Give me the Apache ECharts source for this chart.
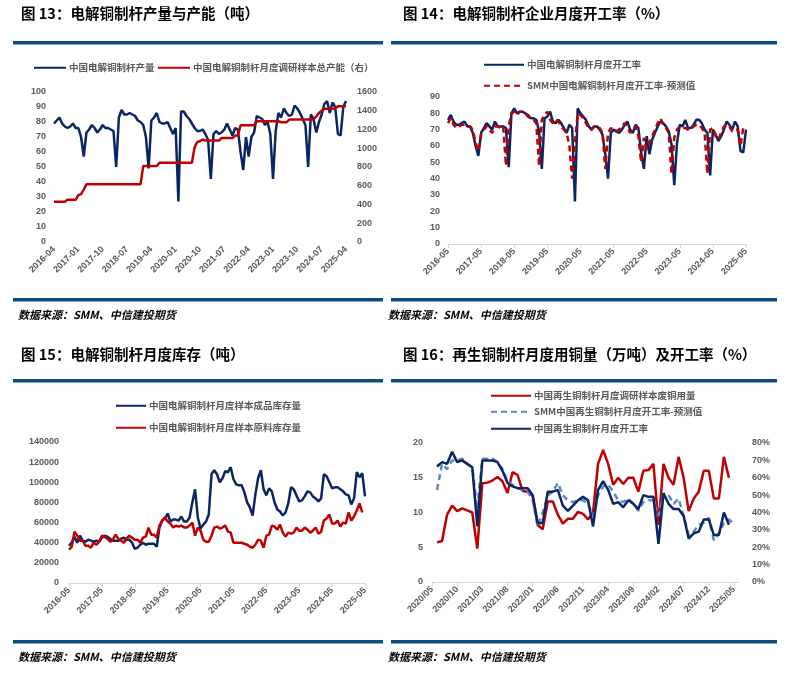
<!DOCTYPE html>
<html><head><meta charset="utf-8">
<script src="https://cdn.jsdelivr.net/npm/echarts@6/dist/echarts.min.js"></script>
<style>html,body{margin:0;padding:0;background:#fff}#c{width:785px;height:685px}</style>
</head><body><div id="c"></div>
<script>
// ---------- categories ----------
function monthRange(y, m, n, sep) {
  var out = [];
  for (var k = 0; k < n; k++) {
    var yy = y + Math.floor((m - 1 + k) / 12), mm = ((m - 1 + k) % 12) + 1;
    out.push(yy + sep + (mm < 10 ? '0' + mm : mm));
  }
  return out;
}
var p1Months = monthRange(2016, 4, 109, '-');   // 2016-04 .. 2025-04
var p2Months = monthRange(2016, 5, 109, '-');   // 2016-05 .. 2025-05
var p3Months = monthRange(2016, 5, 109, '-');
var p4Months = monthRange(2020, 5, 62, '/');    // 2020/05 .. 2025/06

// ---------- 图13 ----------
var p1Output = [79,81,83,79,77,76,77,79,76,76, 70,57,73,75,78,76,73,75,78,76,
  76,75,74,50,83,88,85,85,86,85, 84,81,80,78,70,49,81,83,86,80,
  79,79,80,76,72,76,27,87,87,84, 82,79,76,74,74,75,72,68,42,72,
  74,72,73,75,79,75,71,76,75,60, 48,70,57,70,73,84,83,82,78,80,
  72,42,74,86,83,89,86,84,85,91, 89,86,82,78,50,85,82,73,80,85,
  92,94,86,93,90,72,71,90,94];
var p1Capacity = [430,430,430,430,430,450,450,450,450,500, 510,560,615,615,615,615,615,615,615,615,
  615,615,615,615,615,615,615,615,615,615, 615,615,615,810,810,810,810,810,810,845,
  845,845,845,845,845,845,845,845,845,845, 845,845,1010,1067,1075,1093,1082,1082,1082,1082,
  1082,1082,1110,1110,1110,1110,1110,1135,1135,1245, 1245,1245,1245,1245,1245,1288,1288,1288,1288,1288,
  1288,1288,1288,1288,1277,1277,1277,1306,1306,1306, 1306,1306,1306,1306,1306,1306,1306,1340,1376,1400,
  1422,1422,1422,1422,1422,1448,1448,1448,1448];

// ---------- 图14 ----------
var p2Rate = [76,79,75,73,73,74,75,72,72,68, 60,54,68,71,74,72,70,75,72,72,
  72,71,47,80,83,80,81,81,80,79, 77,77,76,69,46,77,78,81,75,74,
  76,74,71,68,73,71,26,83,80,78, 76,72,70,72,72,70,67,55,40,68,
  70,69,68,70,73,75,70,68,73,71, 56,46,66,55,64,68,72,75,74,72,
  69,61,36,62,73,72,76,71,71,73, 76,76,74,70,68,42,70,67,63,66,
  70,75,73,70,75,72,57,56,70];
var p2Forecast = [74,77,73,71,72,73,73,72,72,70, 62,57,67,70,72,70,68,72,72,71,
  72,48,72,80,81,79,81,81,80,78, 77,76,74,48,76,79,81,76,74,76,
  75,72,70,68,60,40,62,80,79,77, 74,71,70,72,72,71,68,46,68,71,
  70,69,70,72,74,72,68,70,72,66, 50,65,58,62,66,70,74,77,73,71,
  68,43,65,70,72,71,71,70,70,72, 73,73,71,68,43,70,71,66,64,68,
  72,73,72,69,70,70,60,71,71];

// ---------- 图15 ----------
var p3Finished = [37000,40000,46000,40000,47000,42000,41000,43000,42000,41000,
  42000,41000,45000,47000,46000,44000,42000,42000,42000,44000,
  45000,43000,43000,40000,34000,35000,38000,40000,38000,39000,
  39000,39000,36000,55000,62000,64000,69000,61000,63000,63000,
  62000,66000,61000,61000,65000,80000,93000,65000,54000,58000,
  61000,68000,108000,112000,108000,100000,104000,111000,110000,115000,
  103000,98000,97000,97000,90000,80000,75000,67000,88000,104000,
  112000,93000,87000,94000,91000,80000,73000,71000,67000,70000,
  79000,95000,93000,87000,81000,82000,86000,91000,90000,86000,
  84000,81000,84000,108000,106000,100000,94000,95000,95000,93000,
  91000,88000,87000,78000,84000,110000,105000,109000,86000];
var p3Raw = [33000,36000,51000,47000,42000,42000,37000,37000,35000,40000,
  38000,41000,47000,46000,44000,41000,43000,48000,44000,42000,
  40000,44000,47000,45000,43000,43000,40000,45000,46000,55000,
  48000,48000,45000,57000,62000,65000,61000,59000,55000,57000,
  56000,57000,55000,55000,57000,60000,47000,55000,52000,43000,
  41000,41000,47000,55000,56000,54000,55000,57000,51000,50000,
  40000,40000,40000,40000,39000,38000,36000,35000,38000,43000,
  42000,35000,47000,48000,57000,56000,53000,58000,50000,46000,
  50000,49000,50000,55000,52000,52000,55000,53000,50000,52000,
  55000,49000,51000,62000,64000,68000,59000,59000,62000,56000,
  60000,59000,70000,62000,66000,72000,79000,70000];

// ---------- 图16 (values start at 2020/06) ----------
var p4Scrap = [5.7,5.9,9.7,11.0,10.2,10.6,10.3,10.0,4.8,14.2,
  14.3,14.6,15.1,14.5,12.8,15.8,15.4,13.1,13.0,12.4,
  8.2,7.6,11.6,11.6,9.7,8.4,9.1,9.1,10.1,9.8,
  9.0,10.0,17.0,19.0,17.0,14.0,15.0,14.1,15.0,15.0,
  13.0,16.0,16.1,17.0,8.2,17.0,15.0,14.0,18.0,15.0,
  10.2,12.0,13.0,16.0,16.0,12.0,12.0,18.0,15.0];
var p4Forecast = [53,68,65,70,70,71,68,66,42,71, 71,71,69,65,58,56,54,53,52,47,
  32,40,50,52,57,50,47,46,47,47, 45,38,50,55,56,52,47,46,48,45,
  41,46,47,47,38,51,50,45,48,38, 27,29,33,34,37,24,28,34,36,33];
var p4Rate = [66.5,69,68,75,69,70,68,66,32,70, 70,70,69,64,57,55,54,54,54,50,
  34,34,52,52,53,44,41,44,47,49, 47,32,53,58,53,45,46,43,47,45,
  42,50,49,49,22,51,45,42,42,38, 25,28,29,36,36,27,27,40,33];

// ---------- styling ----------
var NAVY = '#0b2564', RED = '#c00000', LBLUE = '#5b87c6', RULE = '#0e4d7b';
var LBL = '#595959';
var NUMFONT = '"Liberation Sans","Noto Sans CJK SC",sans-serif';
var CJK = '"Noto Sans CJK SC","Liberation Sans",sans-serif';

function xCat(grid, data, interval, showLine) {
  return {
    type: 'category', gridIndex: grid, data: data, boundaryGap: false,
    axisLine: {show: showLine, lineStyle: {color: '#d9d9d9', width: 1}},
    axisTick: {show: showLine, interval: interval, length: 4, lineStyle: {color: '#d9d9d9'}},
    axisLabel: {interval: interval, rotate: 45, fontSize: 9, color: LBL, fontWeight: 'bold', fontFamily: NUMFONT, margin: 6},
    splitLine: {show: false}
  };
}
function yVal(grid, max, interval, pos, margin, fmt) {
  return {
    type: 'value', gridIndex: grid, min: 0, max: max, interval: interval, position: pos,
    axisLine: {show: false}, axisTick: {show: false}, splitLine: {show: false},
    axisLabel: {fontSize: 9, color: LBL, fontWeight: 'bold', fontFamily: NUMFONT, margin: margin,
      formatter: fmt || function (v) { return String(v); }}
  };
}
function line(name, data, x, y, color, dashed, z) {
  return {
    name: name, type: 'line', xAxisIndex: x, yAxisIndex: y, data: data, symbol: 'none',
    z: z || 2, connectNulls: false,
    lineStyle: {color: color, width: 2.5, type: dashed ? [6, 4] : 'solid'},
    itemStyle: {color: color}
  };
}
function leg(name, left, top, w) {
  return {
    data: [name], left: left, top: top, padding: 0, itemWidth: w, itemHeight: 10, itemGap: 4,
    selectedMode: false,
    itemStyle: {opacity: 0},
    textStyle: {fontSize: 9.5, fontWeight: 'bold', color: LBL, fontFamily: CJK, padding: [0, 0, 0, -2]}
  };
}
function pad(arr) { return [null].concat(arr); }

var n1a = '中国电解铜制杆产量', n1b = '中国电解铜制杆月度调研样本总产能（右）';
var n2a = '中国电解铜制杆月度开工率', n2b = 'SMM中国电解铜制杆月度开工率-预测值';
var n3a = '中国电解铜制杆月度样本成品库存量', n3b = '中国电解铜制杆月度样本原料库存量';
var n4a = '中国再生铜制杆月度调研样本废铜用量', n4b = 'SMM中国再生铜制杆月度开工率-预测值', n4c = '中国再生铜制杆月度开工率';

function title(txt, x, y) {
  return {type: 'text', left: x, top: y, silent: true,
    style: {text: txt, fill: '#000', font: 'bold 14.5px ' + CJK}};
}
function rule(x, y, w) {
  return {type: 'rect', silent: true, shape: {x: x, y: y, width: w, height: 3.5}, style: {fill: RULE}};
}
function source(x, y) {
  return {type: 'text', left: x, top: y, silent: true,
    style: {text: '数据来源：SMM、中信建投期货', fill: '#000', font: 'italic bold 11px ' + CJK}};
}

var option = {
  animation: false,
  backgroundColor: '#fff',
  grid: [
    {left: 54, top: 92, width: 292, height: 150},
    {left: 448, top: 97, width: 298, height: 147},
    {left: 69, top: 442, width: 296, height: 141},
    {left: 432, top: 443, width: 307, height: 139}
  ],
  xAxis: [
    xCat(0, p1Months, 8, false),
    xCat(1, p2Months, 11, true),
    xCat(2, p3Months, 11, true),
    xCat(3, p4Months, 4, true)
  ],
  yAxis: [
    yVal(0, 100, 10, 'left', 8),
    yVal(0, 1600, 200, 'right', 11),
    yVal(1, 90, 10, 'left', 8),
    yVal(2, 140000, 20000, 'left', 10),
    yVal(3, 20, 5, 'left', 9),
    yVal(3, 80, 10, 'right', 13, '{value}%')
  ],
  legend: [
    leg(n1a, 33, 63, 32),
    leg(n1b, 157, 63, 32),
    leg(n2a, 483, 60, 40),
    leg(n2b, 483, 81, 40),
    leg(n3a, 115, 401, 30),
    leg(n3b, 115, 423, 30),
    leg(n4a, 490, 391, 40),
    leg(n4b, 490, 407, 40),
    leg(n4c, 490, 424, 40)
  ],
  series: [
    line(n1a, p1Output, 0, 0, NAVY, false, 2),
    line(n1b, p1Capacity, 0, 1, RED, false, 3),
    line(n2a, p2Rate, 1, 2, NAVY, false, 2),
    line(n2b, p2Forecast, 1, 2, RED, true, 3),
    line(n3a, p3Finished, 2, 3, NAVY, false, 2),
    line(n3b, p3Raw, 2, 3, RED, false, 3),
    line(n4a, pad(p4Scrap), 3, 4, RED, false, 2),
    line(n4b, pad(p4Forecast), 3, 5, LBLUE, true, 3),
    line(n4c, pad(p4Rate), 3, 5, NAVY, false, 4)
  ],
  graphic: {elements: [
    title('图 13：电解铜制杆产量与产能（吨）', 21, 6),
    title('图 14：电解铜制杆企业月度开工率（%）', 403, 6),
    title('图 15：电解铜制杆月度库存（吨）', 21, 347),
    title('图 16：再生铜制杆月度用铜量（万吨）及开工率（%）', 403, 347),
    rule(13, 41, 370), rule(391, 41, 386),
    rule(13, 298, 370), rule(391, 298, 386),
    rule(13, 379, 370), rule(391, 379, 386),
    rule(13, 640, 370), rule(391, 640, 386),
    source(18, 309), source(388, 309),
    source(18, 651), source(388, 651)
  ]}
};
var chart = echarts.init(document.getElementById('c'), null, {renderer: 'canvas'});
chart.setOption(option);
</script></body></html>
